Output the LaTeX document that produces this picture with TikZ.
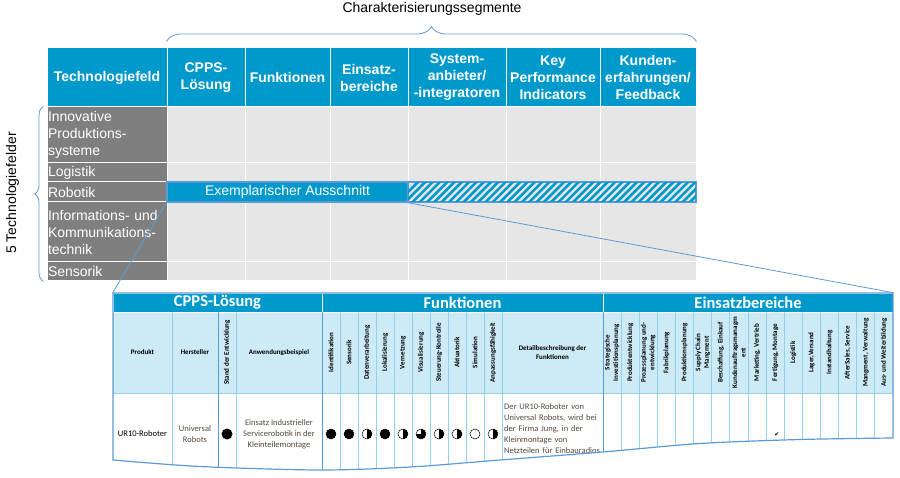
\documentclass[tikz,border=0pt]{standalone}
\usepackage{fontspec}
\setmainfont{Liberation Sans}
\newfontfamily\calibri{Carlito}
\newfontfamily\symbole{DejaVu Sans}
\usetikzlibrary{decorations.pathreplacing}

\definecolor{kopfblau}{RGB}{0,153,204}
\definecolor{feldgrau}{RGB}{127,127,127}
\definecolor{zellgrau}{RGB}{230,230,230}
\definecolor{linienblau}{RGB}{91,155,213}
\definecolor{hellblau}{RGB}{205,234,247}
\definecolor{feinblau}{RGB}{150,208,236}
\definecolor{textgrau}{RGB}{84,72,60}

\begin{document}
\begin{tikzpicture}[x=1pt,y=-1pt]
    \useasboundingbox (0,0) rectangle (900,478);

    \tikzstyle{kopf}=[fill=kopfblau,draw=white,line width=1pt,text=white,inner sep=0pt,minimum height=59pt,align=center,font=\bfseries\fontsize{14}{17}\selectfont]
    \tikzstyle{feld}=[fill=feldgrau,draw=white,line width=1pt,text=white,inner xsep=1pt,inner ysep=0pt,text width=118pt,minimum width=120pt,align=left,font=\fontsize{14}{17}\selectfont]
    \tikzstyle{zelle}=[fill=zellgrau,draw=white,line width=1pt]
    \tikzstyle{balken}=[draw=linienblau,line width=1.2pt,minimum height=20pt,inner sep=0pt,font=\fontsize{14}{17}\selectfont]
    \tikzstyle{klammer}=[draw=linienblau,line width=0.8pt,decorate]
    \tikzstyle{lupe}=[draw=linienblau,line width=0.8pt]

    % Technologiefelder x Charakterisierungssegmente
    \node[kopf,minimum width=120pt] (tf) at (107,77.5) {Technologiefeld};
    \node[kopf,minimum width=78pt] (cpps) at (206,77.5) {CPPS-\\Lösung};
    \node[kopf,minimum width=85pt] (fkt) at (287.5,77.5) {Funktionen};
    \node[kopf,minimum width=78pt] (einb) at (369,77.5) {Einsatz-\\bereiche};
    \node[kopf,minimum width=98pt] (sys) at (457,77.5) {System-\\anbieter/\\-integratoren};
    \node[kopf,minimum width=94pt] (kpi) at (553,77.5) {Key\\Performance\\Indicators};
    \node[kopf,minimum width=96pt] (kunde) at (648,77.5) {Kunden-\\erfahrungen/\\Feedback};

    \foreach \xa/\xb in {167/245,245/330,330/408,408/506,506/600,600/696}
      \foreach \ya/\yb in {107/163,163/182,182/202,202/262,262/281}
        \draw[zelle] (\xa,\ya) rectangle (\xb,\yb);

    \node[feld,minimum height=56pt] (inno) at (107,135) {Innovative\\Produktions-\\systeme};
    \node[feld,minimum height=19pt] (logi) at (107,172.5) {Logistik};
    \node[feld,minimum height=20pt] (robo) at (107,192) {Robotik};
    \node[feld,minimum height=60pt] (info) at (107,232) {Informations- und\\Kommunikations-\\technik};
    \node[feld,minimum height=19pt] (sens) at (107,271.5) {Sensorik};

    \node[balken,fill=kopfblau,text=white,minimum width=241pt] (ausschnitt) at (287.5,192) {Exemplarischer Ausschnitt};
    \node[balken,minimum width=288pt] (rest) at (552,192) {};
    \begin{scope}
      \clip (rest.south west) rectangle (rest.north east);
      \foreach \x in {396,403.3,...,700}
        \draw[kopfblau,line width=2.6pt] (\x,204) -- ++(24,-24);
    \end{scope}
    \draw[balken] (rest.south west) rectangle (rest.north east);

    \draw[klammer,decoration={brace,amplitude=15pt}] ([yshift=6pt]cpps.north west) -- ([yshift=6pt]kunde.north east);
    \node[font=\fontsize{14}{17}\selectfont] (segmente) at (432,9) {Charakterisierungssegmente};
    \draw[klammer,decoration={brace,amplitude=9pt}] ([xshift=-3pt]sens.south west) -- ([xshift=-3pt]inno.north west);
    \node[rotate=90,font=\fontsize{14}{17}\selectfont] (felder) at (12.5,193) {5 Technologiefelder};

    % Ausschnitt Robotik
    \tikzstyle{titel}=[fill=kopfblau,draw=white,line width=0.6pt,text=white,minimum height=19pt,inner sep=0pt,font=\calibri\bfseries\fontsize{16.5}{18}\selectfont]
    \tikzstyle{ukopf}=[inner sep=0pt,align=center,font=\calibri\bfseries\fontsize{7}{8.5}\selectfont]
    \tikzstyle{vkopf}=[ukopf,rotate=90]
    \tikzstyle{eintrag}=[inner sep=0pt,align=center,text=textgrau,font=\calibri\fontsize{8.5}{11}\selectfont]
    \tikzstyle{fein}=[draw=feinblau,line width=0.8pt]
    \tikzstyle{grob}=[draw=linienblau,line width=1pt]
    \tikzstyle{ball}=[draw=black,line width=0.5pt]
    \tikzstyle{rand}=[draw=linienblau,line width=1.2pt]

    \begin{scope}
      \clip (113,293) -- (893,293) -- plot[smooth] coordinates {(893,438) (800,439.5) (700,443.5) (603,452) (500,460) (410,467) (320,470) (200,466.5) (113,460)} -- cycle;
      \fill[hellblau] (113,312) rectangle (893,393);
      \node[titel,minimum width=209pt] (tcpps) at (217.5,302.5) {CPPS-Lösung};
      \node[titel,minimum width=281pt] (tfkt) at (462.5,302.5) {Funktionen};
      \node[titel,minimum width=290pt] (teinsatz) at (748,302.5) {Einsatzbereiche};

      \foreach \x in {172,236,502} \draw[fein] (\x,312) -- (\x,480);
      \foreach \i in {1,...,9} \draw[fein] ({322+18*\i},312) -- ++(0,170);
      \foreach \i in {1,...,15} \draw[fein] ({603+18.125*\i},312) -- ++(0,170);
      \draw[fein] (113,393) -- (893,393);
      \draw[grob] (218,312) -- (218,480);
      \draw[grob] (322,312) -- (322,480);
      \draw[grob] (603,312) -- (603,480);

      \node[ukopf] (produkt) at (142.5,352.5) {Produkt};
      \node[ukopf] (hersteller) at (195,352.5) {Hersteller};
      \node[vkopf] (stand) at (227,352.5) {Stand der Entwicklung};
      \node[ukopf] (anwendung) at (279,352.5) {Anwendungsbeispiel};
      \foreach \txt [count=\i] in {Identifikation,Sensorik,Datenverarbeitung,Lokalisierung,Vernetzung,Visualisierung,Steuerung-Kontrolle,Aktuatorik,Simulation,Anpassungsfähigkeit}
        \node[vkopf] (f\i) at ({313+18*\i},352.5) {\txt};
      \node[ukopf] (detailkopf) at (552.5,352.5) {Detailbeschreibung der\\Funktionen};
      \foreach \txt [count=\i] in {{Strategische\\Investitionsplanung},Produktentwicklung,{Prozessplanung und-\\entwicklung},Fabrikplanung,Produktionsplanung,{Supply Chain\\Mangment},{Beschaffung, Einkauf},{Kundenauftragsmanagm\\ent},{Marketing, Vertrieb},{Fertigung, Montage},Logistik,{Lager,Versand},Instandhaltung,{AfterSales, Service},{Mangment, Verwaltung},Aus- und Weiterbildung}
        \node[vkopf] (e\i) at ({593.9375+18.125*\i},352.5) {\txt};

      \node[eintrag,text=black] (ur10) at (142.5,433.5) {UR10-Roboter};
      \node[eintrag] (ur) at (195,434.5) {Universal\\Robots};
      \fill (227,434) circle (5.5);
      \node[eintrag] (beispiel) at (279,434.5) {Einsatz Industrieller\\Servicerobotik in der\\Kleinteilemontage};
      \foreach \w [count=\i] in {360,360,180,360,180,270,180,180,0.1,180} {
        \fill ({313+18*\i},434) -- ++(-90:5) arc[start angle=-90,delta angle=\w,radius=5] -- cycle;
        \draw[ball] ({313+18*\i},434) circle (5);
      }
      \node[eintrag,anchor=north west,align=left,text width=100pt] (detail) at (504,403.5) {Der UR10-Roboter von\\Universal Robots, wird bei\\der Firma Jung, in der\\Kleinmontage von\\Netzteilen für Einbauradios};
      \node[font=\symbole\fontsize{6}{6}\selectfont] (haken) at (777,435) {✔};
    \end{scope}
    \draw[rand] (113,293) -- (893,293) -- plot[smooth] coordinates {(893,438) (800,439.5) (700,443.5) (603,452) (500,460) (410,467) (320,470) (200,466.5) (113,460)} -- cycle;

    \draw[lupe] (ausschnitt.south west) -- (tcpps.north west);
    \draw[lupe] (rest.south west) -- (teinsatz.north east);

\end{tikzpicture}
\end{document}
